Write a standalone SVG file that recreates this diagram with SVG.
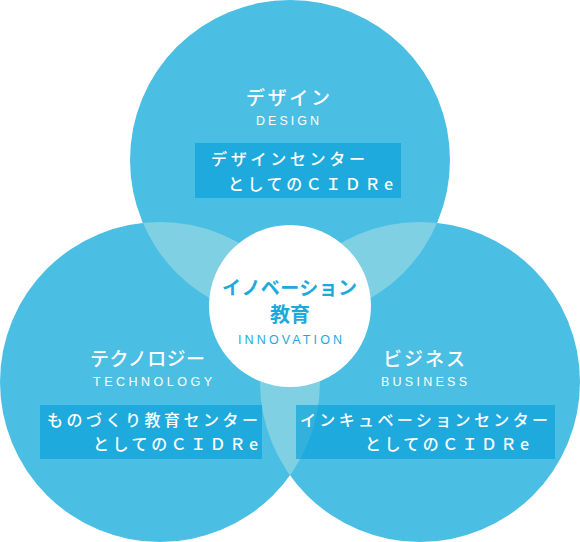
<svg xmlns="http://www.w3.org/2000/svg" width="580" height="542" viewBox="0 0 580 542">
<style>
.c{fill:#4bbee3}
.lens{fill:#80d0e3}
.box{fill:#009dd9;fill-opacity:0.6}
.jp{font-family:"Noto Sans CJK JP","Noto Sans",sans-serif;fill:#fff}
.h{font-size:19px;font-weight:500}
.b{font-size:16px;font-weight:500}
.en{font-family:"Liberation Sans",Arial,sans-serif;font-size:12.5px;fill:#fff}
</style>
<defs>
<clipPath id="cT"><circle cx="290" cy="160" r="160"/></clipPath>
<clipPath id="cL"><circle cx="160" cy="382" r="160"/></clipPath>
</defs>
<rect width="580" height="542" fill="#fff"/>
<g id="circles">
<circle class="c" cx="290" cy="160" r="160"/>
<circle class="c" cx="160" cy="382" r="160"/>
<circle class="c" cx="420" cy="382" r="160"/>
<g clip-path="url(#cT)"><circle class="lens" cx="160" cy="382" r="160"/><circle class="lens" cx="420" cy="382" r="160"/></g>
<g clip-path="url(#cL)"><circle class="lens" cx="420" cy="382" r="160"/></g>
</g>
<g id="design">
<text class="jp h" x="246" y="105" textLength="84" lengthAdjust="spacing">デザイン</text>
<text class="en" x="256" y="125" textLength="63" lengthAdjust="spacing">DESIGN</text>
<rect class="box" x="195" y="143" width="206" height="55"/>
<text class="jp b" x="211" y="165" textLength="154" lengthAdjust="spacing">デザインセンター</text>
<text class="jp b" x="228" y="190" textLength="165" lengthAdjust="spacing">としてのＣＩＤＲe</text>
</g>
<g id="technology">
<text class="jp h" x="90" y="366" textLength="115" lengthAdjust="spacing">テクノロジー</text>
<text class="en" x="93" y="386" textLength="119" lengthAdjust="spacing">TECHNOLOGY</text>
<rect class="box" x="40" y="405" width="222" height="54"/>
<text class="jp b" x="47" y="426" textLength="211" lengthAdjust="spacing">ものづくり教育センター</text>
<text class="jp b" x="93" y="450" textLength="165" lengthAdjust="spacing">としてのＣＩＤＲe</text>
</g>
<g id="business">
<text class="jp h" x="383" y="366" textLength="82" lengthAdjust="spacing">ビジネス</text>
<text class="en" x="381" y="386" textLength="86" lengthAdjust="spacing">BUSINESS</text>
<rect class="box" x="296" y="405" width="259" height="54"/>
<text class="jp b" x="300" y="426" textLength="248" lengthAdjust="spacing">インキュベーションセンター</text>
<text class="jp b" x="365" y="450" textLength="164" lengthAdjust="spacing">としてのＣＩＤＲe</text>
</g>
<g id="innovation">
<circle cx="290" cy="306" r="81" fill="#fff"/>
<text class="jp" x="222" y="295" style="fill:#1ea9dd;font-size:19px;font-weight:700" textLength="135" lengthAdjust="spacing">イノベーション</text>
<text class="jp" x="290" y="322" text-anchor="middle" style="fill:#1ea9dd;font-size:20px;font-weight:700">教育</text>
<text class="en" x="238" y="344" style="fill:#1ea9dd" textLength="104" lengthAdjust="spacing">INNOVATION</text>
</g>
<g id="connectors"/>
</svg>
